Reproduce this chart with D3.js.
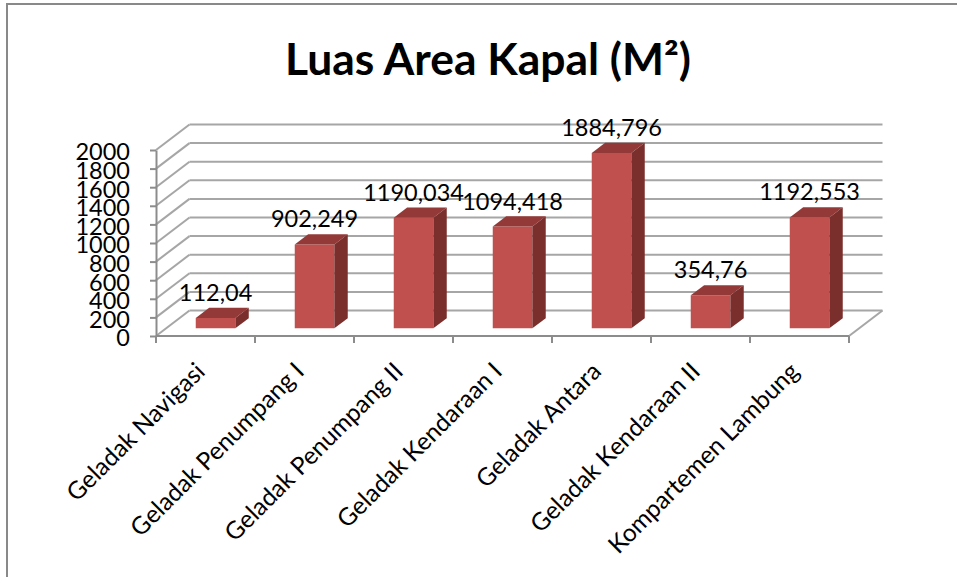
<!DOCTYPE html>
<html>
<head>
<meta charset="utf-8">
<script src="https://cdn.jsdelivr.net/npm/d3@7"></script>
<style>
  html, body { margin: 0; padding: 0; background: #fff; }
  svg { display: block; }
</style>
</head>
<body>
<svg id="chart" width="957" height="577"></svg>
<script>
const title = "Luas Area Kapal (M²)";
const categories = [
  "Geladak Navigasi",
  "Geladak Penumpang I",
  "Geladak Penumpang II",
  "Geladak Kendaraan I",
  "Geladak Antara",
  "Geladak Kendaraan II",
  "Kompartemen Lambung"
];
const values = [112.04, 902.249, 1190.034, 1094.418, 1884.796, 354.76, 1192.553];
const yTicks = [0, 200, 400, 600, 800, 1000, 1200, 1400, 1600, 1800, 2000];

const svg = d3.select("#chart");
const FONT = "Lato, 'Open Sans', sans-serif";

// plot geometry
const X0 = 156, X1 = 849, Y0 = 336, Y1 = 150;
const DX = 33.5, DY = -25.5;       // depth offset of the 3D box
const Z0 = 0.3, Z1 = 0.7;          // bar depth span

const x = d3.scaleBand().domain(categories).range([X0, X1]).paddingInner(0).paddingOuter(0);
const y = d3.scaleLinear().domain([0, 2000]).range([Y0, Y1]);
const barW = x.bandwidth() * 0.4;

const P = (xx, v, z) => [xx + z * DX, y(v) + z * DY];

// outer border
svg.append("rect")
  .attr("x", 7).attr("y", 4).attr("width", 1000).attr("height", 700)
  .attr("fill", "#fff").attr("stroke", "#898989").attr("stroke-width", 2);

// title
svg.append("text")
  .attr("x", 488).attr("y", 75)
  .attr("text-anchor", "middle")
  .attr("font-family", FONT).attr("font-weight", "bold").attr("font-size", 43)
  .attr("textLength", 406).attr("lengthAdjust", "spacingAndGlyphs")
  .attr("fill", "#000")
  .text(title);

const grid = svg.append("g").attr("stroke", "#a6a6a6").attr("stroke-width", 2).attr("fill", "none");
// back wall gridlines
grid.selectAll("line.back").data(yTicks).join("line")
  .attr("class", "back")
  .attr("x1", X0 + DX).attr("x2", X1 + DX)
  .attr("y1", d => y(d) + DY).attr("y2", d => y(d) + DY);
// side wall gridlines
grid.selectAll("line.side").data(yTicks).join("line")
  .attr("class", "side")
  .attr("x1", X0).attr("x2", X0 + DX)
  .attr("y1", d => y(d)).attr("y2", d => y(d) + DY);
// floor right edge
grid.append("line")
  .attr("x1", X1).attr("y1", y(0)).attr("x2", X1 + DX).attr("y2", y(0) + DY);

// Y axis
const yAxis = d3.axisLeft(y).tickValues(yTicks).tickSize(6).tickSizeOuter(0).tickPadding(20)
  .tickFormat(d3.format("d"));
const gy = svg.append("g").attr("transform", `translate(${X0},0)`).call(yAxis);
gy.select(".domain").attr("stroke", "#8c8c8c").attr("stroke-width", 2);
gy.selectAll(".tick line").attr("stroke", "#8c8c8c").attr("stroke-width", 2);
gy.selectAll(".tick text")
  .attr("font-family", FONT).attr("font-size", 23.5).attr("fill", "#000").attr("dy", "0.42em");

// X axis line + boundary ticks
const boundaries = categories.map(c => x(c)).concat([X1]);
const gx = svg.append("g").attr("stroke", "#8c8c8c").attr("stroke-width", 2);
gx.append("line").attr("x1", X0).attr("x2", X1).attr("y1", Y0).attr("y2", Y0);
gx.selectAll("line.tk").data(boundaries).join("line")
  .attr("class", "tk")
  .attr("x1", d => d).attr("x2", d => d).attr("y1", Y0).attr("y2", Y0 + 7);

// category labels
svg.append("g").selectAll("text").data(categories).join("text")
  .attr("transform", d => `translate(${x(d) + x.bandwidth() / 2 + 1},${Y0 + 37}) rotate(-45)`)
  .attr("text-anchor", "end")
  .attr("font-family", FONT).attr("font-size", 24.5).attr("fill", "#000")
  .text(d => d);

// bars
const data = categories.map((c, i) => ({ c, v: values[i] }));
const bars = svg.append("g").selectAll("g").data(data).join("g");
const pts = a => a.map(p => p.join(",")).join(" ");
bars.each(function (d) {
  const g = d3.select(this);
  const cx = x(d.c) + x.bandwidth() / 2;
  const l = cx - barW / 2, r = cx + barW / 2;
  g.append("polygon")
    .attr("points", pts([P(l, 0, Z0), P(r, 0, Z0), P(r, d.v, Z0), P(l, d.v, Z0)]))
    .attr("fill", "#c0504d");
  g.append("polygon")
    .attr("points", pts([P(l, d.v, Z0), P(r, d.v, Z0), P(r, d.v, Z1), P(l, d.v, Z1)]))
    .attr("fill", "#933a38");
  g.append("polygon")
    .attr("points", pts([P(r, 0, Z0), P(r, 0, Z1), P(r, d.v, Z1), P(r, d.v, Z0)]))
    .attr("fill", "#7b2f2d");
  g.append("text")
    .attr("x", cx + Z0 * DX).attr("y", y(d.v) + Z0 * DY - 17)
    .attr("text-anchor", "middle")
    .attr("font-family", FONT).attr("font-size", 23.5).attr("fill", "#000")
    .text(String(d.v).replace(".", ","));
});
</script>
</body>
</html>
